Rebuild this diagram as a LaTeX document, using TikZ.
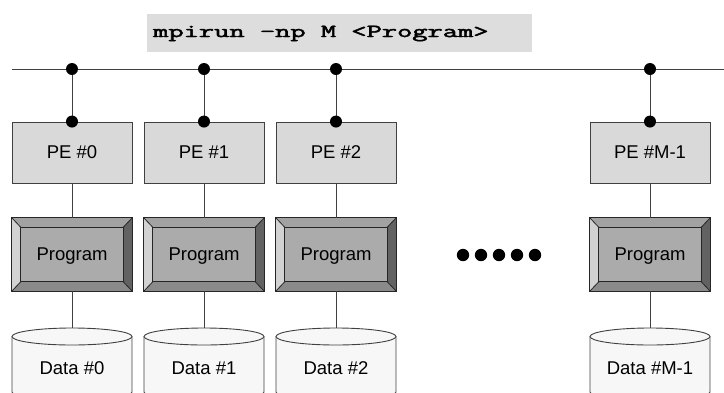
\documentclass[tikz,border=0pt]{standalone}
\usepackage{fontspec}
\setmainfont{Liberation Sans}
\newfontfamily\cmdfont[FakeBold=2.2]{Latin Modern Mono}
\usepackage{graphicx}
\usetikzlibrary{calc}
\definecolor{pegray}{HTML}{D9D9D9}
\definecolor{bannergray}{HTML}{DDDDDD}
\definecolor{datafill}{HTML}{F7F7F7}
\definecolor{progmid}{HTML}{ABABAB}
\definecolor{progtop}{HTML}{A2A2A2}
\definecolor{progleft}{HTML}{D2D2D2}
\definecolor{progright}{HTML}{626262}
\definecolor{progbot}{HTML}{8A8A8A}
\definecolor{edge}{HTML}{404040}
\begin{document}
\begin{tikzpicture}[x=1pt,y=-1pt,
  every node/.style={inner sep=0pt},
  txt/.style={font=\fontsize{18.5}{20}\selectfont},
  pebox/.style={txt,draw=edge,fill=pegray,line width=0.9pt,minimum width=120pt,minimum height=61pt},
  progbox/.style={minimum width=120pt,minimum height=73pt},
  datanode/.style={txt,minimum width=120pt,minimum height=80pt},
  bannerbox/.style={fill=bannergray,minimum width=385pt,minimum height=38pt},
  link/.style={draw=edge,line width=0.9pt},
  bevelline/.style={draw=black!85,line width=0.8pt},
  joint/.style={fill=black}
]
\useasboundingbox (0,0) rectangle (724,392);
\clip (0,0) rectangle (724,392);

% command banner
\node[bannerbox] (cmdbox) at (339.5,33) {};
\node[anchor=west] (cmd) at (153,33.5)
  {\scalebox{1.6}[1]{\cmdfont\fontsize{18.5}{20}\selectfont mpirun -np M <Program>}};

% bus
\coordinate (busL) at (12,69);
\coordinate (busR) at (724,69);
\draw[link] (busL) -- (busR);

\foreach \x/\n/\l in {72/0/0, 204/1/1, 336/2/2, 650/3/M-1}{
  \coordinate (b\n) at (\x,69);
  \node[pebox] (pe\n) at (\x,152.5) {PE \#\l};
  \node[progbox] (pr\n) at (\x,254.5) {};
  % bevelled program box
  \coordinate (iNW\n) at ($(pr\n.north west)+(9,9.5)$);
  \coordinate (iNE\n) at ($(pr\n.north east)+(-9,9.5)$);
  \coordinate (iSW\n) at ($(pr\n.south west)+(9,-9.5)$);
  \coordinate (iSE\n) at ($(pr\n.south east)+(-9,-9.5)$);
  \fill[progtop] (pr\n.north west) -- (pr\n.north east) -- (iNE\n) -- (iNW\n) -- cycle;
  \fill[progleft] (pr\n.north west) -- (iNW\n) -- (iSW\n) -- (pr\n.south west) -- cycle;
  \fill[progright] (pr\n.north east) -- (pr\n.south east) -- (iSE\n) -- (iNE\n) -- cycle;
  \fill[progbot] (pr\n.south west) -- (iSW\n) -- (iSE\n) -- (pr\n.south east) -- cycle;
  \fill[progmid] (iNW\n) rectangle (iSE\n);
  \draw[bevelline] (pr\n.north west) rectangle (pr\n.south east);
  \draw[bevelline] (iNW\n) rectangle (iSE\n);
  \draw[bevelline] (pr\n.north west) -- (iNW\n) (pr\n.north east) -- (iNE\n)
                   (pr\n.south west) -- (iSW\n) (pr\n.south east) -- (iSE\n);
  \node[txt] (prt\n) at ($(pr\n.center)+(0,1.5)$) {Program};
  % data cylinder
  \fill[datafill] (\x-60,336.5) rectangle (\x+60,400);
  \draw[link] (\x-60,336.5) -- (\x-60,392) arc[start angle=180,end angle=360,x radius=60,y radius=-8.5] -- (\x+60,336.5);
  \filldraw[link,fill=datafill] (\x,336.5) ellipse[x radius=60,y radius=8.5];
  \node[datanode] (d\n) at (\x,368) {Data \#\l};
  % connectors
  \draw[link] (b\n) -- (pe\n.north);
  \draw[link] (pe\n.south) -- (pr\n.north);
  \draw[link] (pr\n.south) -- (\x,328);
  \fill[joint] (b\n) circle (6);
  \fill[joint] (pe\n.north) circle (6);
}

% ellipsis dots
\foreach \dx in {463,481,499,517,535}{
  \fill[joint] (\dx,255) circle (6.2);
}
\end{tikzpicture}
\end{document}
